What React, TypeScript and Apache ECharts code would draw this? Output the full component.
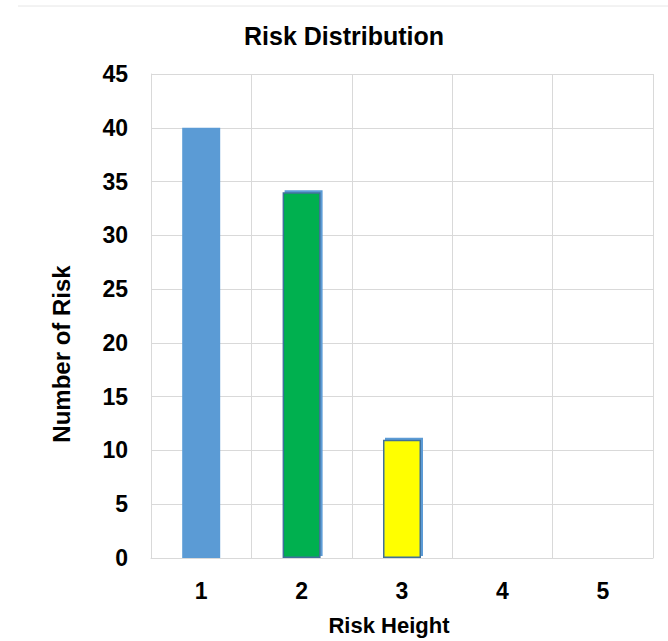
import React, { useEffect, useRef } from "react";
import * as echarts from "echarts";

const categories = ["1", "2", "3", "4", "5"];
const values = [40, 34, 11, 0, 0];
const barColors = ["#5B9BD5", "#00B050", "#FFFF00", "#5B9BD5", "#5B9BD5"];
const outlined = [false, true, true, false, false];
const yTicks = { min: 0, max: 45, interval: 5 };
const titleText = "Risk Distribution";
const xName = "Risk Height";
const yName = "Number of Risk";

const FONT = "'Liberation Sans', Arial, sans-serif";

export default function App() {
  const ref = useRef<HTMLDivElement>(null);
  useEffect(() => {
    if (!ref.current) return;
    const chart = echarts.init(ref.current, null, { renderer: "svg" });
    chart.setOption({
      animation: false,
      backgroundColor: "#ffffff",
      textStyle: { fontFamily: FONT },
      title: {
        text: titleText,
        left: 339,
        textAlign: "center",
        top: 18,
        textStyle: { fontFamily: FONT, fontWeight: "bold", fontSize: 25, color: "#000" },
      },
      graphic: [
        {
          type: "line",
          shape: { x1: 18, y1: 6, x2: 668, y2: 6 },
          style: { stroke: "#e6e6e6", lineWidth: 1 },
          silent: true,
        },
      ],
      grid: { left: 151, top: 74, right: 15, bottom: 82, containLabel: false },
      xAxis: {
        type: "category",
        data: categories,
        boundaryGap: true,
        name: xName,
        nameLocation: "middle",
        nameGap: 56,
        nameTextStyle: {
          fontFamily: FONT,
          fontWeight: "bold",
          fontSize: 22,
          color: "#000",
          padding: [0, 26, 0, 0],
        },
        axisLine: { show: true, lineStyle: { color: "#d9d9d9", width: 1 } },
        axisTick: { show: false },
        axisLabel: {
          fontFamily: FONT,
          fontWeight: "bold",
          fontSize: 23,
          color: "#000",
          margin: 21,
        },
        splitLine: { show: true, lineStyle: { color: "#d9d9d9", width: 1 } },
      },
      yAxis: {
        type: "value",
        min: yTicks.min,
        max: yTicks.max,
        interval: yTicks.interval,
        name: yName,
        nameLocation: "middle",
        nameGap: 78,
        nameRotate: 90,
        nameTextStyle: {
          fontFamily: FONT,
          fontWeight: "bold",
          fontSize: 24,
          color: "#000",
          padding: [0, 76, 0, 0],
        },
        axisLine: { show: true, lineStyle: { color: "#d9d9d9", width: 1 } },
        axisTick: { show: false },
        axisLabel: {
          fontFamily: FONT,
          fontWeight: "bold",
          fontSize: 23,
          color: "#000",
          margin: 23,
        },
        splitLine: { show: true, lineStyle: { color: "#d9d9d9", width: 1 } },
      },
      series: [
        {
          type: "bar",
          barWidth: 38,
          data: values.map((v, i) => ({
            value: v,
            itemStyle: outlined[i]
              ? {
                  color: barColors[i],
                  borderColor: "#41719C",
                  borderWidth: 1.5,
                  shadowColor: "#5B9BD5",
                  shadowOffsetX: 2,
                  shadowOffsetY: -2,
                  shadowBlur: 0,
                }
              : { color: barColors[i], borderWidth: 0 },
          })),
        },
      ],
    });
    return () => chart.dispose();
  }, []);
  return (
    <div
      ref={ref}
      style={{ position: "absolute", left: 0, top: 0, width: 668, height: 641 }}
    />
  );
}
